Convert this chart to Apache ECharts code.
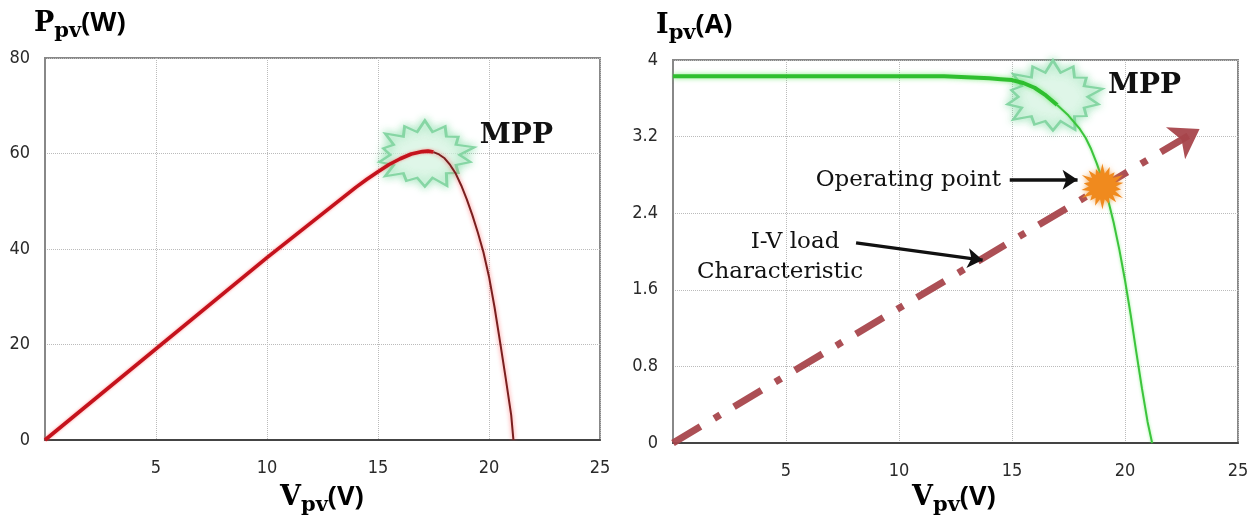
<!DOCTYPE html>
<html><head><meta charset="utf-8">
<script src="https://cdn.jsdelivr.net/npm/echarts@6.0.0/dist/echarts.min.js"></script>
<style>html,body{margin:0;padding:0;background:#fff}#c{width:1260px;height:531px}</style>
</head><body><div id="c"></div>
<script>
// ---- data ----
const xTicks = [0, 5, 10, 15, 20, 25];
const pTicks = [0, 20, 40, 60, 80];
const iTicks = [0, 0.8, 1.6, 2.4, 3.2, 4];
const pvVoltage = [0,10,14,14.5,15,15.5,16,16.5,17,17.25,17.5,17.75,18,18.25,18.5,18.75,19,19.25,19.5,19.75,20,20.25,20.5,20.75,21,21.1];
const pvPower   = [0,38.2,52.9,54.6,56.2,57.7,58.9,59.9,60.4,60.5,60.3,59.8,59.0,57.6,55.8,53.3,50.4,47.1,43.4,39.3,34.2,27.8,20.5,13.0,5.2,0];
const ivVoltage = [0,12,13,14,14.5,15,15.5,16,16.5,17,17.5,18,18.25,18.5,18.75,19,19.25,19.5,19.75,20,20.25,20.5,20.75,21,21.2];
const ivCurrent = [3.83,3.83,3.82,3.81,3.80,3.79,3.76,3.71,3.63,3.53,3.42,3.28,3.19,3.07,2.92,2.75,2.54,2.30,2.02,1.70,1.34,0.95,0.57,0.22,0];
const loadV = [0, 23.3];
const loadI = [0, 3.28];
const mppLeft = [17.2, 60];
const mppRight = [16.9, 3.63];
const opPoint = [19.0, 2.68];
const opArrowV = [14.9, 17.9];
const opArrowI = [2.75, 2.75];
const ivArrowV = [8.1, 13.7];
const ivArrowI = [2.09, 1.91];
const pvSplit = 10;   // index where the thick linear part ends (V = 17.5)
const ivSplit = 9;    // index where the thick flat part ends (V = 17)

function starPath(n, inner, wobble) {
  let d = '';
  for (let k = 0; k < 2 * n; k++) {
    const a = Math.PI * k / n - Math.PI / 2;
    const r = k % 2 === 0 ? 100 * (1 - wobble * ((k * 5) % 3) / 2) : 100 * inner * (1 - 0.08 * ((k * 7) % 2));
    d += (k ? 'L' : 'M') + (100 + r * Math.cos(a)).toFixed(1) + ' ' + (100 + r * Math.sin(a)).toFixed(1) + ' ';
  }
  return 'path://' + d + 'Z';
}
const mppStar = starPath(14, 0.74, 0.16);
const opStar = starPath(18, 0.62, 0.2);

const tickFont = { fontFamily: '"DejaVu Sans Condensed","Liberation Sans",sans-serif', fontSize: 18, color: '#2a2a2a' };
const serif = '"DejaVu Serif",serif';
const sansB = '"Open Sans","Liberation Sans",sans-serif';

function xAxisCfg(grid) {
  return {
    type: 'value', gridIndex: grid, min: xTicks[0], max: xTicks[xTicks.length - 1], interval: 5,
    axisLine: { show: true, lineStyle: { color: '#444', width: 2 } },
    axisTick: { show: false },
    axisLabel: Object.assign({ margin: 19, showMinLabel: false }, tickFont),
    splitLine: { show: true, lineStyle: { color: '#bbb', type: 'dotted', width: 1 } }
  };
}
function yAxisCfg(grid, ticks, fmt) {
  return {
    type: 'value', gridIndex: grid, min: ticks[0], max: ticks[ticks.length - 1], interval: ticks[1] - ticks[0],
    axisLine: { show: true, lineStyle: { color: '#888', width: 2 } },
    axisTick: { show: false },
    axisLabel: Object.assign({ margin: 15, formatter: fmt }, tickFont),
    splitLine: { show: true, lineStyle: { color: '#bbb', type: 'dotted', width: 1 } }
  };
}
const zip = (a, b) => a.map((v, i) => [v, b[i]]);
const pvData = zip(pvVoltage, pvPower);
const ivData = zip(ivVoltage, ivCurrent);

const chart = echarts.init(document.getElementById('c'), null, { renderer: 'canvas' });
const titleRich = {
  b: { fontFamily: serif, fontWeight: 'bold', fontSize: 27, color: '#111' },
  s: { fontFamily: serif, fontWeight: 'bold', fontSize: 21, color: '#111', padding: [16, 0, 0, 0] },
  p: { fontFamily: sansB, fontWeight: 'bold', fontSize: 27, color: '#111' }
};
const annot = { fontFamily: serif, fontSize: 23, fill: '#111' };
const starStyle = { color: 'rgba(255,255,255,0.5)', borderColor: '#86d6a4', borderWidth: 2.5, shadowBlur: 8, shadowColor: 'rgba(110,215,150,0.9)', opacity: 1 };
const mppLabel = { show: true, formatter: 'MPP', position: 'right', distance: 4, fontFamily: serif, fontWeight: 'bold', fontSize: 28, color: '#111' };

chart.setOption({
  animation: false,
  grid: [
    { left: 45, right: 660, top: 58, bottom: 91, show: true, borderColor: '#888', borderWidth: 2 },
    { left: 673, right: 22, top: 60, bottom: 88, show: true, borderColor: '#888', borderWidth: 2 }
  ],
  xAxis: [xAxisCfg(0), xAxisCfg(1)],
  yAxis: [
    yAxisCfg(0, pTicks, v => String(v)),
    yAxisCfg(1, iTicks, v => String(parseFloat(v.toFixed(1))))
  ],
  graphic: [
    { type: 'text', left: 34, top: 10, style: { text: '{b|P}{s|pv}{p|(W)}', rich: titleRich } },
    { type: 'text', left: 280, top: 484, style: { text: '{b|V}{s|pv}{p|(V)}', rich: titleRich } },
    { type: 'text', left: 656, top: 12, style: { text: '{b|I}{s|pv}{p|(A)}', rich: titleRich } },
    { type: 'text', left: 912, top: 484, style: { text: '{b|V}{s|pv}{p|(V)}', rich: titleRich } },
    { type: 'text', x: 1001, y: 180, style: Object.assign({ text: 'Operating point', align: 'right', verticalAlign: 'middle' }, annot) },
    { type: 'text', x: 795, y: 242, style: Object.assign({ text: 'I-V load', align: 'center', verticalAlign: 'middle' }, annot) },
    { type: 'text', x: 780, y: 272, style: Object.assign({ text: 'Characteristic', align: 'center', verticalAlign: 'middle' }, annot) }
  ],
  series: [
    {
      type: 'scatter', xAxisIndex: 0, yAxisIndex: 0, z: 1, silent: true,
      data: [mppLeft], symbol: mppStar, symbolSize: [95, 66], itemStyle: starStyle,
      label: Object.assign({ offset: [0, -18] }, mppLabel)
    },
    {
      type: 'line', xAxisIndex: 0, yAxisIndex: 0, z: 3, data: pvData.slice(0, pvSplit + 1),
      symbol: 'none', lineStyle: { color: '#c4121c', width: 3.6, shadowBlur: 3, shadowColor: 'rgba(255,80,80,0.6)' }
    },
    {
      type: 'line', xAxisIndex: 0, yAxisIndex: 0, z: 3, data: pvData.slice(pvSplit),
      symbol: 'none', lineStyle: { color: '#7a1f1f', width: 2, shadowBlur: 4, shadowColor: 'rgba(255,90,90,0.8)' }
    },
    {
      type: 'scatter', xAxisIndex: 1, yAxisIndex: 1, z: 1, silent: true,
      data: [mppRight], symbol: mppStar, symbolSize: [95, 70], itemStyle: starStyle,
      label: Object.assign({ offset: [0, -10] }, mppLabel)
    },
    {
      type: 'line', xAxisIndex: 1, yAxisIndex: 1, z: 3, data: ivData.slice(0, ivSplit + 1),
      symbol: 'none', lineStyle: { color: '#2fbf2f', width: 4, shadowBlur: 5, shadowColor: 'rgba(80,230,80,0.7)' }
    },
    {
      type: 'line', xAxisIndex: 1, yAxisIndex: 1, z: 3, data: ivData.slice(ivSplit),
      symbol: 'none', lineStyle: { color: '#3cc43c', width: 2, shadowBlur: 3, shadowColor: 'rgba(80,230,80,0.6)' }
    },
    {
      type: 'line', xAxisIndex: 1, yAxisIndex: 1, z: 2, data: [], symbol: 'none',
      markLine: {
        silent: true, symbol: ['none', 'arrow'], symbolSize: 28, label: { show: false },
        lineStyle: { color: '#a8464c', width: 7, type: [32, 16, 7, 16], cap: 'butt', opacity: 0.95 },
        data: [[{ coord: [loadV[0], loadI[0]] }, { coord: [loadV[1], loadI[1]] }]]
      }
    },
    {
      type: 'line', xAxisIndex: 1, yAxisIndex: 1, z: 4, data: [], symbol: 'none',
      markLine: {
        silent: true, symbol: ['none', 'arrow'], symbolSize: 15, label: { show: false },
        lineStyle: { color: '#111', width: 3.5, type: 'solid', opacity: 1 },
        data: [
          [{ coord: [opArrowV[0], opArrowI[0]] }, { coord: [opArrowV[1], opArrowI[1]] }],
          [{ coord: [ivArrowV[0], ivArrowI[0]] }, { coord: [ivArrowV[1], ivArrowI[1]] }]
        ]
      }
    },
    {
      type: 'scatter', xAxisIndex: 1, yAxisIndex: 1, z: 5, silent: true,
      data: [opPoint], symbol: opStar, symbolSize: [42, 46],
      itemStyle: { color: '#f08a1e', shadowBlur: 5, shadowColor: 'rgba(240,140,30,0.7)', opacity: 1 }
    }
  ]
});
</script></body></html>
